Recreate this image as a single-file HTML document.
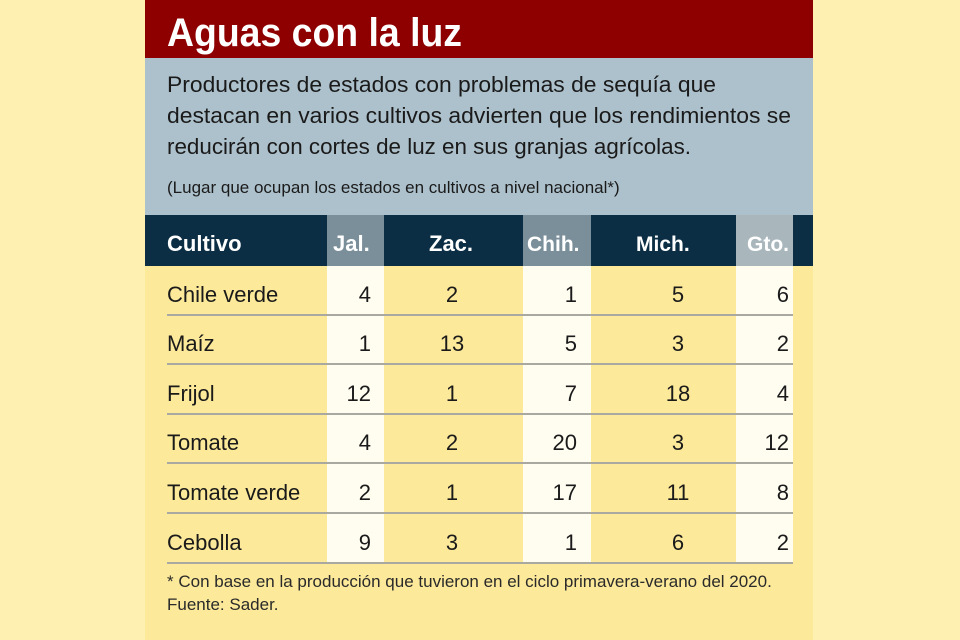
<!DOCTYPE html>
<html><head><meta charset="utf-8"><style>
html,body{margin:0;padding:0;background:#fdf0b0;}
svg{display:block;}
text{font-family:"Liberation Sans",sans-serif;}
</style></head><body>
<svg width="960" height="640" viewBox="0 0 960 640" xmlns="http://www.w3.org/2000/svg">
<rect width="960" height="640" fill="#fdf0b0"/>
<rect x="145" y="0" width="668" height="640" fill="#fce99a"/>
<rect x="145" y="0" width="668" height="58" fill="#8e0000"/>
<rect x="145" y="58" width="668" height="157" fill="#adc1cc"/>
<rect x="145" y="215" width="668" height="51" fill="#0c2e45"/>
<rect x="327" y="215" width="57" height="51" fill="#7b8f9b"/>
<rect x="523" y="215" width="68" height="51" fill="#7b8f9b"/>
<rect x="736" y="215" width="57" height="51" fill="#a9b7bd"/>
<rect x="327" y="266" width="57" height="298" fill="#fffcf0"/>
<rect x="523" y="266" width="68" height="298" fill="#fffcf0"/>
<rect x="736" y="266" width="57" height="298" fill="#fffcf0"/>
<g fill="#fff" font-weight="bold">
<text x="167" y="46" font-size="40" textLength="295" lengthAdjust="spacingAndGlyphs">Aguas con la luz</text>
<text x="167" y="251" font-size="22">Cultivo</text>
<text x="333" y="251" font-size="22">Jal.</text>
<text x="429" y="251" font-size="22">Zac.</text>
<text x="527" y="251" font-size="21">Chih.</text>
<text x="636" y="251" font-size="21">Mich.</text>
<text x="747" y="251" font-size="21">Gto.</text>
</g>
<g fill="#1a1a1a" font-size="22">
<text x="167" y="92" textLength="549" lengthAdjust="spacingAndGlyphs">Productores de estados con problemas de sequía que</text>
<text x="167" y="123" textLength="624" lengthAdjust="spacingAndGlyphs">destacan en varios cultivos advierten que los rendimientos se</text>
<text x="167" y="154" textLength="524" lengthAdjust="spacingAndGlyphs">reducirán con cortes de luz en sus granjas agrícolas.</text>
<text x="167" y="193" font-size="17">(Lugar que ocupan los estados en cultivos a nivel nacional*)</text>
</g>
<g stroke="#a9a9a2" stroke-width="2">
<line x1="167" x2="793" y1="315" y2="315"/>
<line x1="167" x2="793" y1="364" y2="364"/>
<line x1="167" x2="793" y1="414" y2="414"/>
<line x1="167" x2="793" y1="463" y2="463"/>
<line x1="167" x2="793" y1="513" y2="513"/>
<line x1="167" x2="793" y1="563" y2="563"/>
</g>
<g fill="#1a1a1a" font-size="22">
<text x="167" y="302">Chile verde</text>
<text x="167" y="351">Maíz</text>
<text x="167" y="401">Frijol</text>
<text x="167" y="450">Tomate</text>
<text x="167" y="500">Tomate verde</text>
<text x="167" y="550">Cebolla</text>
</g>
<g fill="#1a1a1a" font-size="22">
<g text-anchor="end">
<text x="371" y="302">4</text><text x="371" y="351">1</text><text x="371" y="401">12</text><text x="371" y="450">4</text><text x="371" y="500">2</text><text x="371" y="550">9</text>
<text x="577" y="302">1</text><text x="577" y="351">5</text><text x="577" y="401">7</text><text x="577" y="450">20</text><text x="577" y="500">17</text><text x="577" y="550">1</text>
<text x="789" y="302">6</text><text x="789" y="351">2</text><text x="789" y="401">4</text><text x="789" y="450">12</text><text x="789" y="500">8</text><text x="789" y="550">2</text>
</g>
<g text-anchor="middle">
<text x="452" y="302">2</text><text x="452" y="351">13</text><text x="452" y="401">1</text><text x="452" y="450">2</text><text x="452" y="500">1</text><text x="452" y="550">3</text>
<text x="678" y="302">5</text><text x="678" y="351">3</text><text x="678" y="401">18</text><text x="678" y="450">3</text><text x="678" y="500">11</text><text x="678" y="550">6</text>
</g>
</g>
<g fill="#2a2a2a" font-size="17">
<text x="167" y="587">* Con base en la producción que tuvieron en el ciclo primavera-verano del 2020.</text>
<text x="167" y="610">Fuente: Sader.</text>
</g>
</svg>
</body></html>
